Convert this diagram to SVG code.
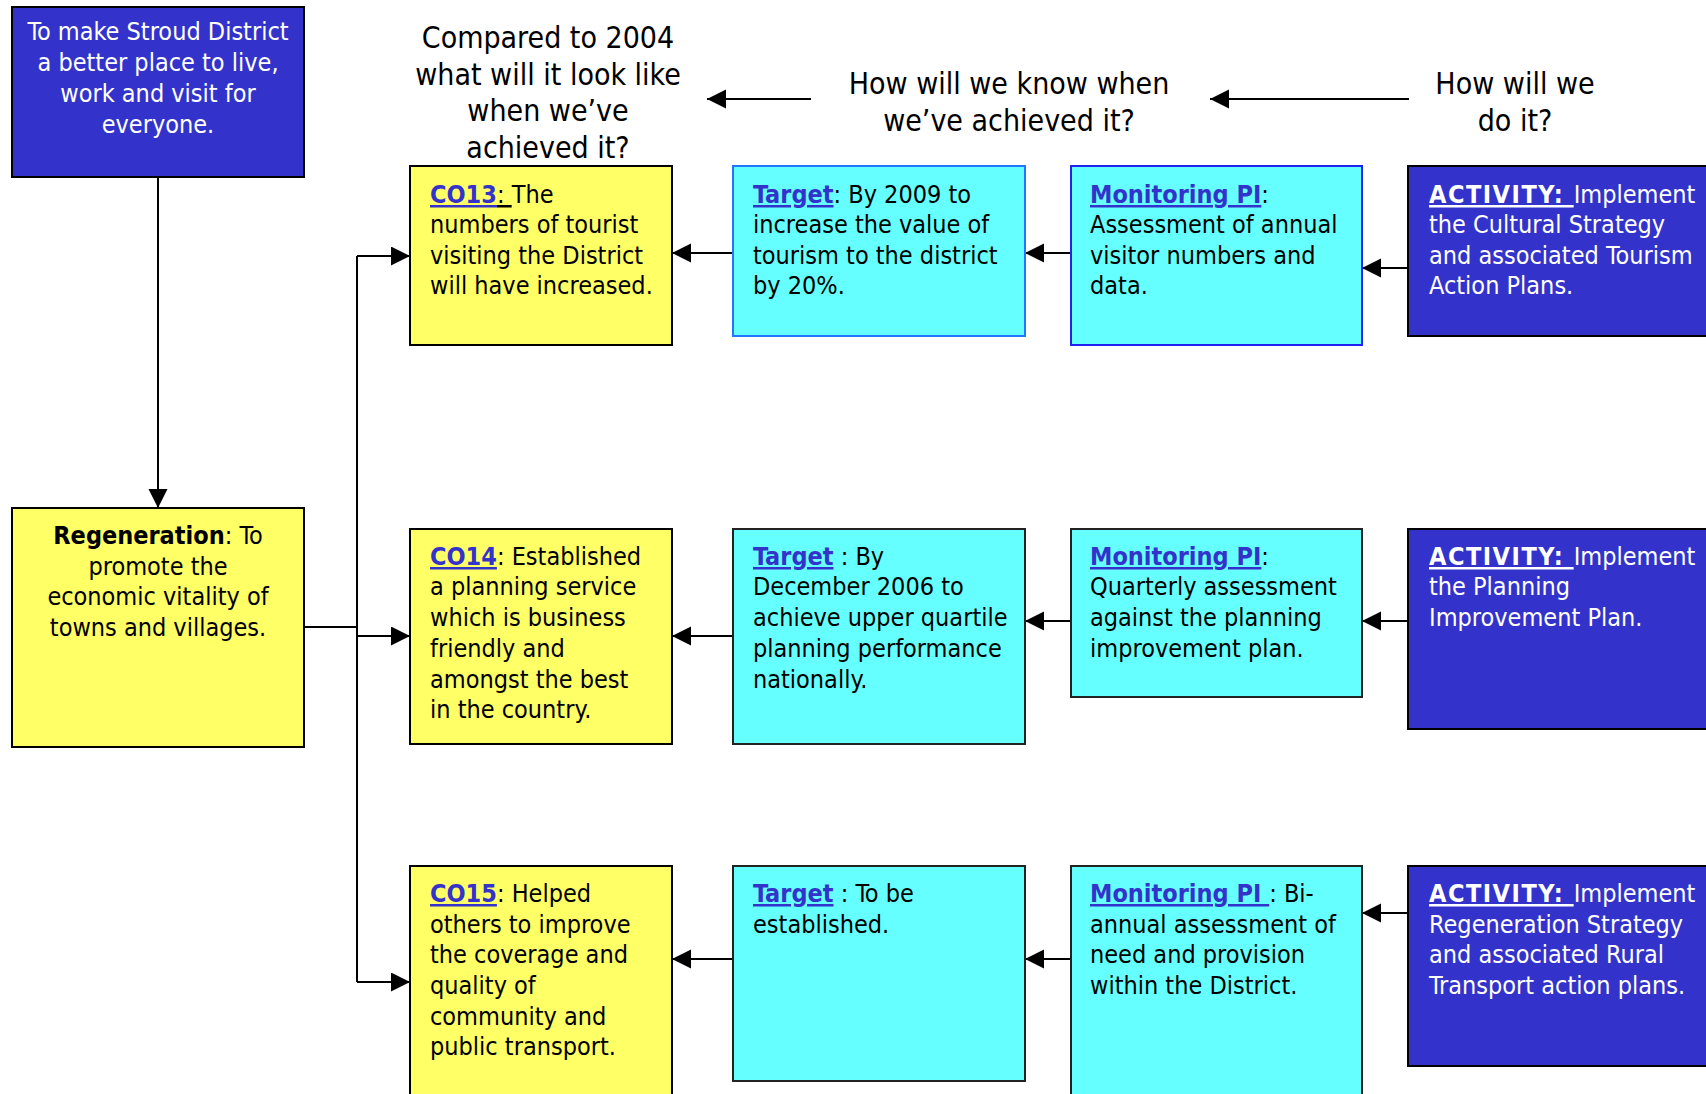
<svg xmlns="http://www.w3.org/2000/svg" width="1706" height="1094" viewBox="0 0 1706 1094">
<defs>
<style>
text{font-family:"DejaVu Sans Condensed","DejaVu Sans",sans-serif;font-stretch:condensed;font-size:25px;fill:#000}
.hd{font-size:30px;text-anchor:middle}
.c{text-anchor:middle}
.w{fill:#fff}
.lk{font-weight:bold;fill:#3333cc;text-decoration:underline}
.act{font-weight:bold;fill:#fff;text-decoration:underline;letter-spacing:1.5px}
.ul{text-decoration:underline}
.b{font-weight:bold}
.yel{fill:#ffff66;stroke:#000;stroke-width:2}
.cy{fill:#66ffff;stroke:#222;stroke-width:2}
.bl{fill:#3333cc;stroke:#000;stroke-width:2}
.ln{fill:none;stroke:#000;stroke-width:2;marker-end:url(#ah)}
.ln0{fill:none;stroke:#000;stroke-width:2}
</style>
<marker id="ah" markerUnits="userSpaceOnUse" markerWidth="20" markerHeight="20" refX="19" refY="9.5" orient="auto">
<path d="M0,0 L19,9.5 L0,19 z" fill="#000"/>
</marker>
</defs>
<rect width="1706" height="1094" fill="#fff"/>

<g id="headers">
<text class="hd"><tspan x="548" y="48">Compared to 2004</tspan><tspan x="548" y="85">what will it look like</tspan><tspan x="548" y="121">when we’ve</tspan><tspan x="548" y="158">achieved it?</tspan></text>
<text class="hd"><tspan x="1009" y="94">How will we know when</tspan><tspan x="1009" y="131">we’ve achieved it?</tspan></text>
<text class="hd"><tspan x="1515" y="94">How will we</tspan><tspan x="1515" y="131">do it?</tspan></text>
</g>

<g id="connectors">
<path class="ln" d="M811,99 H707"/>
<path class="ln" d="M1409,99 H1210"/>
<path class="ln" d="M158,177 V508"/>
<path class="ln0" d="M304,627 H357"/>
<path class="ln0" d="M357,256 V982"/>
<path class="ln" d="M357,256 H410"/>
<path class="ln" d="M357,636 H410"/>
<path class="ln" d="M357,982 H410"/>
<path class="ln" d="M733,253 H672"/>
<path class="ln" d="M1071,253 H1025"/>
<path class="ln" d="M1408,268 H1362"/>
<path class="ln" d="M733,636 H672"/>
<path class="ln" d="M1071,621 H1025"/>
<path class="ln" d="M1408,621 H1362"/>
<path class="ln" d="M733,959 H672"/>
<path class="ln" d="M1071,959 H1025"/>
<path class="ln" d="M1408,913 H1362"/>
</g>

<g id="vision">
<rect class="bl" x="12" y="7" width="292" height="170"/>
<text class="c w"><tspan x="158" y="40">To make Stroud District</tspan><tspan x="158" y="71">a better place to live,</tspan><tspan x="158" y="102">work and visit for</tspan><tspan x="158" y="133">everyone.</tspan></text>
</g>

<g id="regeneration">
<rect class="yel" x="12" y="508" width="292" height="239"/>
<text class="c"><tspan x="158" y="544"><tspan class="b">Regeneration</tspan>: To</tspan><tspan x="158" y="575">promote the</tspan><tspan x="158" y="605">economic vitality of</tspan><tspan x="158" y="636">towns and villages.</tspan></text>
</g>

<g id="co13">
<rect class="yel" x="410" y="166" width="262" height="179"/>
<text><tspan x="430" y="203"><tspan class="lk">CO13</tspan><tspan class="ul">: </tspan>The</tspan><tspan x="430" y="233">numbers of tourist</tspan><tspan x="430" y="264">visiting the District</tspan><tspan x="430" y="294">will have increased.</tspan></text>
</g>

<g id="target13">
<rect class="cy" x="733" y="166" width="292" height="170" style="stroke:#2277ff"/>
<text><tspan x="753" y="203"><tspan class="lk">Target</tspan>: By 2009 to</tspan><tspan x="753" y="233">increase the value of</tspan><tspan x="753" y="264">tourism to the district</tspan><tspan x="753" y="294">by 20%.</tspan></text>
</g>

<g id="monitor13">
<rect class="cy" x="1071" y="166" width="291" height="179" style="stroke:#2222ee"/>
<text><tspan x="1090" y="203"><tspan class="lk">Monitoring PI</tspan>:</tspan><tspan x="1090" y="233">Assessment of annual</tspan><tspan x="1090" y="264">visitor numbers and</tspan><tspan x="1090" y="294">data.</tspan></text>
</g>

<g id="activity13">
<rect class="bl" x="1408" y="166" width="310" height="170"/>
<text class="w"><tspan x="1429" y="203"><tspan class="act">ACTIVITY: </tspan>Implement</tspan><tspan x="1429" y="233">the Cultural Strategy</tspan><tspan x="1429" y="264">and associated Tourism</tspan><tspan x="1429" y="294">Action Plans.</tspan></text>
</g>

<g id="co14">
<rect class="yel" x="410" y="529" width="262" height="215"/>
<text><tspan x="430" y="565"><tspan class="lk">CO14</tspan>: Established</tspan><tspan x="430" y="595">a planning service</tspan><tspan x="430" y="626">which is business</tspan><tspan x="430" y="657">friendly and</tspan><tspan x="430" y="688">amongst the best</tspan><tspan x="430" y="718">in the country.</tspan></text>
</g>

<g id="target14">
<rect class="cy" x="733" y="529" width="292" height="215"/>
<text><tspan x="753" y="565"><tspan class="lk">Target</tspan> : By</tspan><tspan x="753" y="595">December 2006 to</tspan><tspan x="753" y="626">achieve upper quartile</tspan><tspan x="753" y="657">planning performance</tspan><tspan x="753" y="688">nationally.</tspan></text>
</g>

<g id="monitor14">
<rect class="cy" x="1071" y="529" width="291" height="168"/>
<text><tspan x="1090" y="565"><tspan class="lk">Monitoring PI</tspan>:</tspan><tspan x="1090" y="595">Quarterly assessment</tspan><tspan x="1090" y="626">against the planning</tspan><tspan x="1090" y="657">improvement plan.</tspan></text>
</g>

<g id="activity14">
<rect class="bl" x="1408" y="529" width="310" height="200"/>
<text class="w"><tspan x="1429" y="565"><tspan class="act">ACTIVITY: </tspan>Implement</tspan><tspan x="1429" y="595">the Planning</tspan><tspan x="1429" y="626">Improvement Plan.</tspan></text>
</g>

<g id="co15">
<rect class="yel" x="410" y="866" width="262" height="240"/>
<text><tspan x="430" y="902"><tspan class="lk">CO15</tspan>: Helped</tspan><tspan x="430" y="933">others to improve</tspan><tspan x="430" y="963">the coverage and</tspan><tspan x="430" y="994">quality of</tspan><tspan x="430" y="1025">community and</tspan><tspan x="430" y="1055">public transport.</tspan></text>
</g>

<g id="target15">
<rect class="cy" x="733" y="866" width="292" height="215"/>
<text><tspan x="753" y="902"><tspan class="lk">Target</tspan> : To be</tspan><tspan x="753" y="933">established.</tspan></text>
</g>

<g id="monitor15">
<rect class="cy" x="1071" y="866" width="291" height="240"/>
<text><tspan x="1090" y="902"><tspan class="lk">Monitoring PI </tspan> : Bi-</tspan><tspan x="1090" y="933">annual assessment of</tspan><tspan x="1090" y="963">need and provision</tspan><tspan x="1090" y="994">within the District.</tspan></text>
</g>

<g id="activity15">
<rect class="bl" x="1408" y="866" width="310" height="200"/>
<text class="w"><tspan x="1429" y="902"><tspan class="act">ACTIVITY: </tspan>Implement</tspan><tspan x="1429" y="933">Regeneration Strategy</tspan><tspan x="1429" y="963">and associated Rural</tspan><tspan x="1429" y="994">Transport action plans.</tspan></text>
</g>
</svg>
